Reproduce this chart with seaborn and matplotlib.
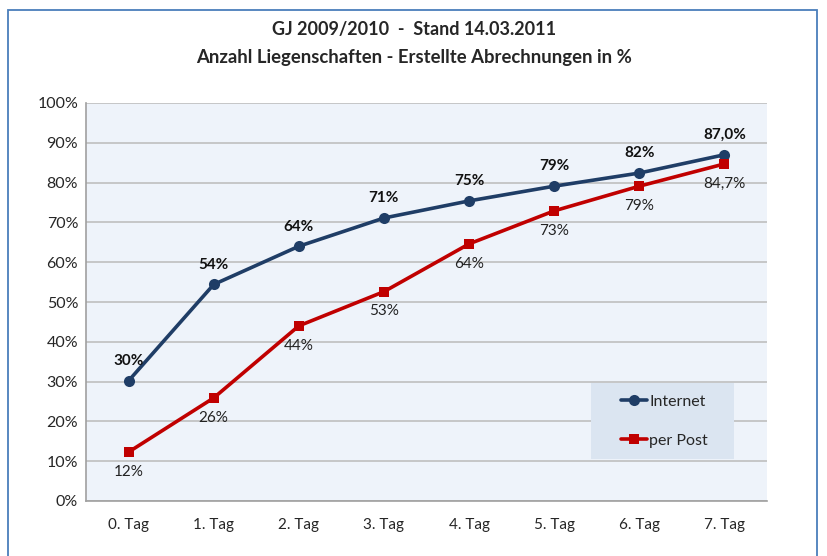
import numpy as np
import pandas as pd
import matplotlib
matplotlib.use('Agg')
import matplotlib.pyplot as plt
import seaborn as sns
from matplotlib.patches import Rectangle

# Werte
tage = ['0. Tag', '1. Tag', '2. Tag', '3. Tag', '4. Tag', '5. Tag', '6. Tag', '7. Tag']
internet = [30.2, 54.4, 64.0, 71.1, 75.4, 79.1, 82.4, 87.0]
post = [12.3, 25.9, 44.0, 52.6, 64.6, 72.9, 79.1, 84.7]
lbl_internet = ['30%', '54%', '64%', '71%', '75%', '79%', '82%', '87,0%']
lbl_post = ['12%', '26%', '44%', '53%', '64%', '73%', '79%', '84,7%']

sns.set_style('white')
plt.rcParams['font.family'] = ['Lato', 'DejaVu Sans']

df = pd.DataFrame({'x': np.arange(len(tage)), 'Internet': internet, 'per Post': post})

fig = plt.figure(figsize=(8.28, 5.56), dpi=100)
ax = fig.add_axes([86/828, 1-501/556, 681/828, 398/556])
ax.set_facecolor('#EEF3FA')

# Rahmen um das Diagramm
fig.patches.append(Rectangle((8/828, -0.05), 809/828, 1.05-10/556, transform=fig.transFigure,
                             fill=False, edgecolor='#4A7EBB', lw=1.3))

navy = '#1F3D66'
red = '#C00000'
sns.lineplot(data=df, x='x', y='Internet', ax=ax, color=navy, lw=2.6, marker='o',
             markersize=8, markeredgewidth=0, label='Internet')
sns.lineplot(data=df, x='x', y='per Post', ax=ax, color=red, lw=2.6, marker='s',
             markersize=7.5, markeredgewidth=0, label='per Post')

for i in range(len(tage)):
    ax.text(i, internet[i] + 3.2, lbl_internet[i], ha='center', va='bottom',
            fontsize=11, fontweight='bold', color='#111111')
    ax.text(i, post[i] - 3.2, lbl_post[i], ha='center', va='top',
            fontsize=11, color='#222222')

ax.set_xlim(-0.5, 7.5)
ax.set_ylim(0, 100)
ax.set_yticks(np.arange(0, 101, 10))
ax.set_yticklabels(['%d%%' % v for v in range(0, 101, 10)])
ax.set_xticks(np.arange(len(tage)))
ax.set_xticklabels(tage)
ax.set_xticks(np.arange(-0.5, 7.6, 1), minor=True)
ax.tick_params(axis='x', which='major', length=0, pad=12, labelsize=11)
ax.tick_params(axis='x', which='minor', length=3.6, color='#A0A0A0', direction='out')
ax.tick_params(axis='y', length=3.6, color='#A0A0A0', direction='out', pad=2, labelsize=11.5)
ax.grid(axis='y', color='#BFBFBF', lw=1.2)
ax.set_axisbelow(True)
for s in ['top', 'right']:
    ax.spines[s].set_visible(False)
for s in ['left', 'bottom']:
    ax.spines[s].set_color('#A0A0A0')
    ax.spines[s].set_linewidth(1.2)
ax.set_xlabel('')
ax.set_ylabel('')

# Legendenfeld
ax.add_patch(Rectangle((0.741, 0.105), 0.21, 0.191, transform=ax.transAxes,
                       facecolor='#DBE5F1', edgecolor='none', zorder=4))
leg = ax.legend(loc='center left', bbox_to_anchor=(0.774, 0.2), frameon=False,
                fontsize=11.5, handlelength=1.6, handletextpad=0.15, labelspacing=1.55,
                borderpad=0)
leg.set_zorder(5)

fig.text(0.5, 1-30/556, 'GJ 2009/2010  -  Stand 14.03.2011', ha='center', va='center',
         fontsize=13, fontweight='bold')
fig.text(0.5, 1-58/556, 'Anzahl Liegenschaften - Erstellte Abrechnungen in %', ha='center',
         va='center', fontsize=13.3, fontweight='bold')

fig.savefig('out.png', dpi=100)
